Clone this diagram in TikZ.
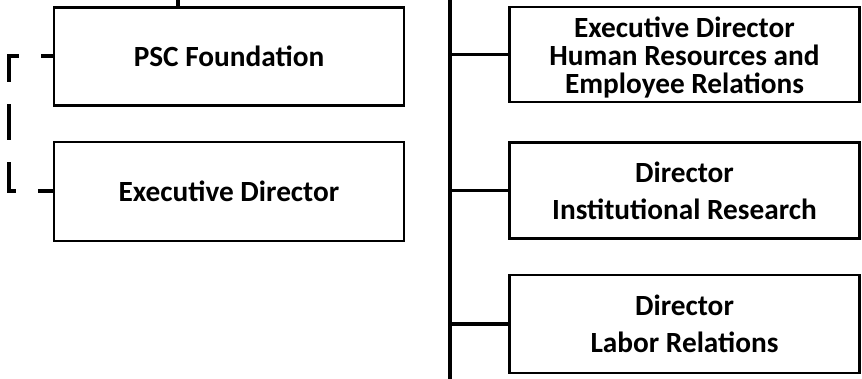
\documentclass[tikz,border=0pt]{standalone}
\usepackage{fontspec}
\setmainfont{Carlito}
\usetikzlibrary{positioning}

\begin{document}
\begin{tikzpicture}[x=1pt,y=-1pt,
    unit/.style={draw,line width=2.4pt,inner sep=0pt,align=center,
      minimum width=350pt,font=\bfseries\fontsize{29.3}{28}\selectfont},
    link/.style={line width=3.5pt},
    trunk/.style={line width=4.5pt},
    dashlink/.style={line width=4pt,dash pattern=on 36pt off 22pt,dash phase=24pt}]
        \useasboundingbox (0,0) rectangle (862,379);

        % Left column
        \node[unit,minimum height=98pt] (psc) at (229,56.5) {PSC Foundation};
        \node[unit,minimum height=99pt,below=34pt of psc] (exec) {Executive Director};

        % Right column
        \node[unit,minimum height=95pt] (hr) at (684.5,54.5) {\rule{0pt}{27pt}Executive Director\\Human Resources and\\Employee Relations};
        \node[unit,minimum height=96pt,below=38pt of hr] (ir) {Director\\[9pt]Institutional Research};
        \node[unit,minimum height=98pt,below=34pt of ir] (lr) {Director\\[9pt]Labor Relations};

        % Lines
        \coordinate (up) at (178,0);
        \draw[link] (up) -- (up |- psc.north);
        \coordinate (top) at (450,0);
        \coordinate (bottom) at (450,379);
        \draw[trunk] (top) -- (bottom);
        \draw[link] (hr.west) -- (hr.west -| top);
        \draw[link] (ir.west) -- (ir.west -| top);
        \draw[link] (lr.west) -- (lr.west -| top);
        \draw[dashlink] (psc.west) -- ++(-44,0) |- (exec.west);

      \end{tikzpicture}
\end{document}
